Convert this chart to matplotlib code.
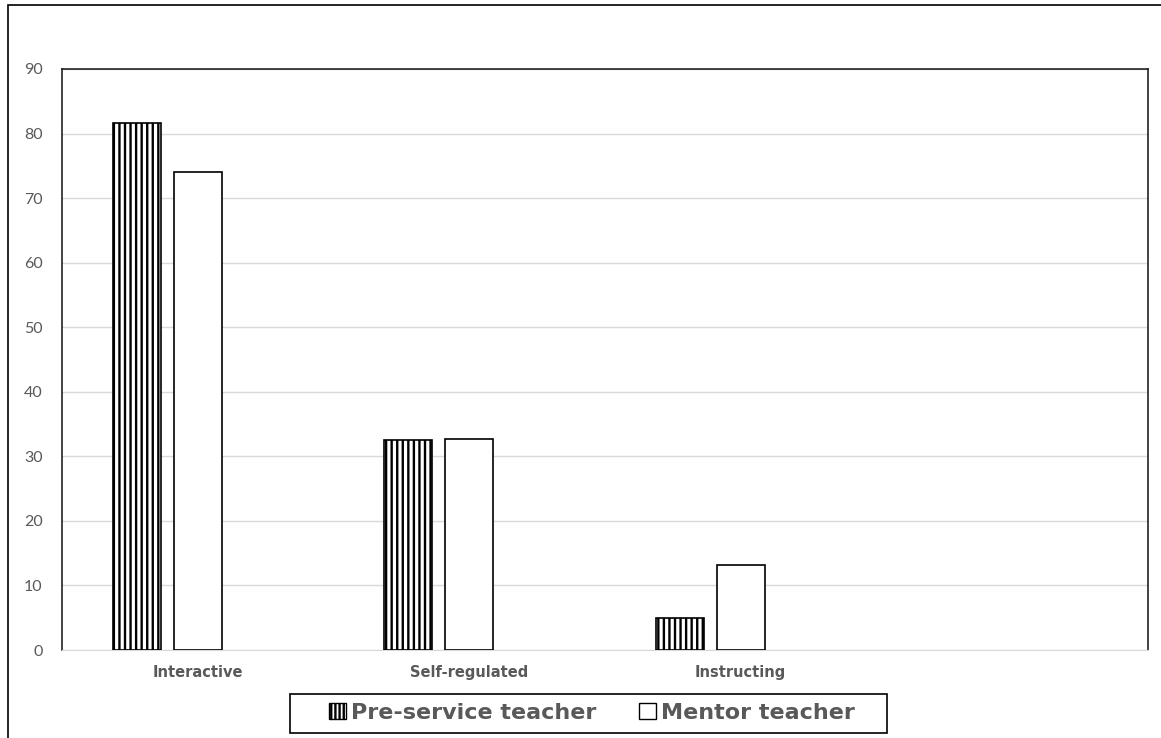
import matplotlib.pyplot as plt
import matplotlib.patches as mpatches
import numpy as np

categories = ["Interactive", "Self-regulated", "Instructing", ""]
pre_service = [81.7, 32.5, 5.0, np.nan]
mentor = [74.0, 32.7, 13.1, np.nan]
series_names = ["Pre-service teacher", "Mentor teacher"]

plt.rcParams['font.family'] = ['Lato', 'DejaVu Sans']
plt.rcParams['hatch.linewidth'] = 1.7

fig = plt.figure(figsize=(11.61, 7.38), dpi=100)
ax = fig.add_axes([62 / 1161, 88 / 738, 1086 / 1161, 581 / 738])

x = np.arange(len(categories))
w = 0.177
ax.bar(x - 0.224, pre_service, w, color='white', edgecolor='black',
       hatch='|||', linewidth=1.2, zorder=3)
ax.bar(x, mentor, w, color='white', edgecolor='black', linewidth=1.2, zorder=3)

ax.set_xlim(-0.5, 3.5)
ax.set_ylim(0, 90)
ax.set_yticks(range(0, 91, 10))
ax.yaxis.grid(True, color='#d9d9d9', linewidth=1)
ax.set_axisbelow(True)
ax.set_xticks(x)
ax.set_xticklabels(categories, fontsize=10.5, fontweight='bold', color='#595959',
                   family='DejaVu Sans')
ax.tick_params(axis='x', length=0, pad=11)
ax.tick_params(axis='y', length=0, pad=14, labelsize=11.5, labelcolor='#595959')
for s in ['left', 'top', 'right']:
    ax.spines[s].set_color('#222222')
    ax.spines[s].set_linewidth(1.2)
ax.spines['bottom'].set_color('#d9d9d9')

handles = [mpatches.Patch(facecolor='white', edgecolor='black', hatch='||||', linewidth=1),
           mpatches.Patch(facecolor='white', edgecolor='black', linewidth=1)]
leg = fig.legend(handles, series_names, loc='center', bbox_to_anchor=(592 / 1161, 1 - 713 / 738),
                 ncol=2, frameon=False,
                 prop={'size': 16, 'weight': 'bold', 'family': 'DejaVu Sans'},
                 handlelength=0.75, handleheight=0.75,
                 handletextpad=0.25, columnspacing=1.9, borderpad=0.3, borderaxespad=0)
for t in leg.get_texts():
    t.set_color('#595959')

# legend box, wider than the entries
fig.patches.append(mpatches.Rectangle((290 / 1161, 1 - 733 / 738), 597 / 1161, 39 / 738,
                                      transform=fig.transFigure, fill=False,
                                      edgecolor='black', linewidth=1.2))

# outer chart border
fig.patches.append(mpatches.Rectangle((8 / 1161, -0.01), 1.02, 1 - 5 / 738 + 0.01,
                                      transform=fig.transFigure, fill=False,
                                      edgecolor='black', linewidth=1.2))

fig.savefig("out.png", dpi=100)
